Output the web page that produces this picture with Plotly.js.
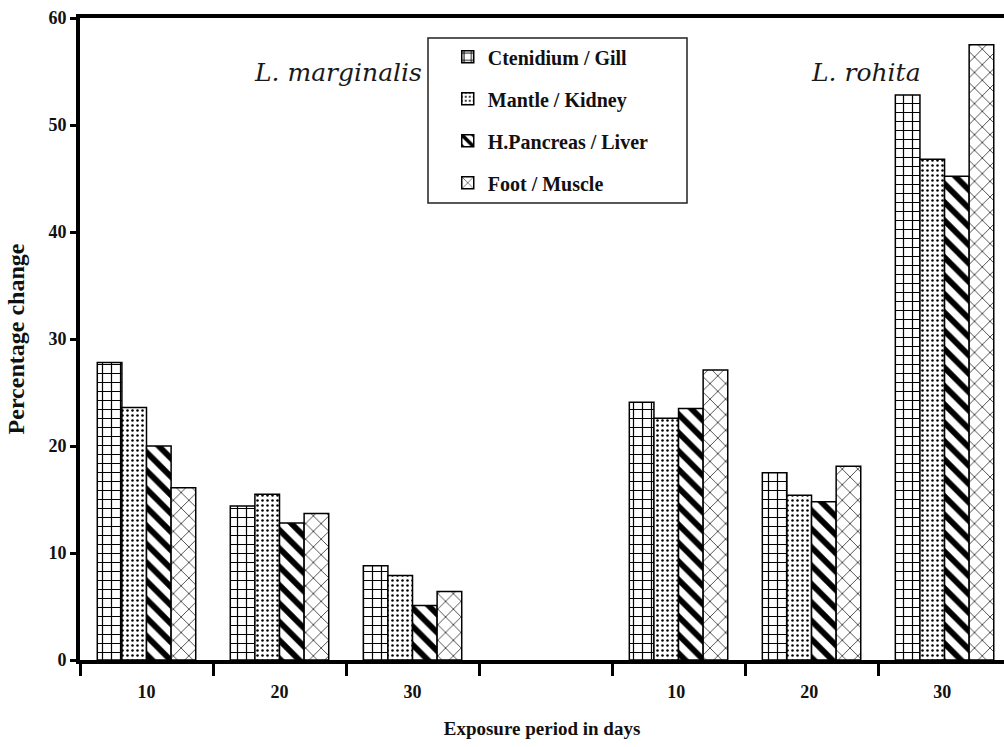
<!DOCTYPE html>
<html>
<head>
<meta charset="utf-8">
<script src="https://cdn.plot.ly/plotly-3.0.1.min.js"></script>
<style>html,body{margin:0;padding:0;background:#fff;}#chart{width:1004px;height:747px;}</style>
</head>
<body>
<div id="chart"></div>
<script>
// Exposure period categories (left group: L. marginalis, right group: L. rohita; blank separator)
const categories = ["10", "20", "30", " ", "10 ", "20 ", "30 "];
const gill    = [27.8, 14.4, 8.8, null, 24.1, 17.5, 52.8];
const kidney  = [23.6, 15.5, 7.9, null, 22.6, 15.4, 46.8];
const liver   = [20.0, 12.8, 5.1, null, 23.5, 14.8, 45.2];
const muscle  = [16.1, 13.7, 6.4, null, 27.1, 18.1, 57.5];
const seriesNames = ["Ctenidium / Gill", "Mantle / Kidney", "H.Pancreas / Liver", "Foot / Muscle"];
const speciesLabels = ["L. marginalis", "L. rohita"];

const serif = "Liberation Serif, Times New Roman, serif";
const patterns = [
  {shape: "+", size: 9, solidity: 0.25},
  {shape: ".", size: 5, solidity: 0.2},
  {shape: "\\", size: 13, solidity: 0.45},
  {shape: "x", size: 11, solidity: 0.12}
];
const values = [gill, kidney, liver, muscle];

const traces = values.map((v, i) => ({
  type: "bar",
  name: seriesNames[i],
  x: categories,
  y: v,
  legendgroup: "g" + i,
  marker: {
    color: "#ffffff",
    line: {color: "#000000", width: 1.5},
    pattern: Object.assign({fgcolor: "#000000", bgcolor: "#ffffff", fillmode: "replace"}, patterns[i])
  },
  hoverinfo: "skip"
}));

const annFont = {family: "DejaVu Serif, serif", size: 25, color: "#1a1a1a", style: "italic"};

const layout = {
  width: 1004, height: 747,
  margin: {l: 80, r: 0, t: 18, b: 87},
  paper_bgcolor: "#ffffff", plot_bgcolor: "#ffffff",
  barmode: "group", bargap: 0.26, bargroupgap: 0,
  showlegend: true,
  legend: {
    x: 0.398, y: 0.97, xanchor: "left", yanchor: "top",
    bgcolor: "rgba(0,0,0,0)", borderwidth: 0,
    tracegroupgap: 13,
    font: {family: serif, size: 20, color: "#111", weight: "bold"}
  },
  xaxis: {
    type: "category",
    categoryorder: "array", categoryarray: categories,
    range: [-0.5, 6.447],
    showline: true, linecolor: "#000", linewidth: 4, mirror: true,
    ticks: "outside", tickson: "boundaries", ticklen: 12, tickwidth: 3, tickcolor: "#000",
    ticklabelstandoff: 12,
    showgrid: false, zeroline: false,
    tickfont: {family: serif, size: 18, color: "#111", weight: "bold"},
    title: {text: "Exposure period in days", font: {family: serif, size: 19, color: "#111", weight: "bold"}, standoff: 22}
  },
  yaxis: {
    range: [0, 60], dtick: 10, tick0: 0,
    showline: true, linecolor: "#000", linewidth: 4,
    ticks: "outside", ticklen: 6, tickwidth: 3, tickcolor: "#000",
    showgrid: false, zeroline: false,
    tickfont: {family: serif, size: 18, color: "#111", weight: "bold"},
    title: {text: "Percentage change", font: {family: serif, size: 24, color: "#111", weight: "bold"}, standoff: 18}
  },
  shapes: [{
    type: "rect", xref: "paper", yref: "paper",
    x0: (428 - 80) / 924, x1: (687 - 80) / 924,
    y0: (660 - 203) / 642, y1: (660 - 38) / 642,
    line: {color: "#222", width: 1.5}, fillcolor: "rgba(0,0,0,0)", layer: "above"
  }],
  annotations: [
    {text: speciesLabels[0], xref: "paper", yref: "paper", x: (338 - 80) / 924, y: (660 - 73) / 642,
     xanchor: "center", yanchor: "middle", showarrow: false, font: annFont},
    {text: speciesLabels[1], xref: "paper", yref: "paper", x: (866 - 80) / 924, y: (660 - 73) / 642,
     xanchor: "center", yanchor: "middle", showarrow: false, font: annFont}
  ]
};

Plotly.newPlot("chart", traces, layout, {displayModeBar: false, staticPlot: true});
</script>
</body>
</html>
